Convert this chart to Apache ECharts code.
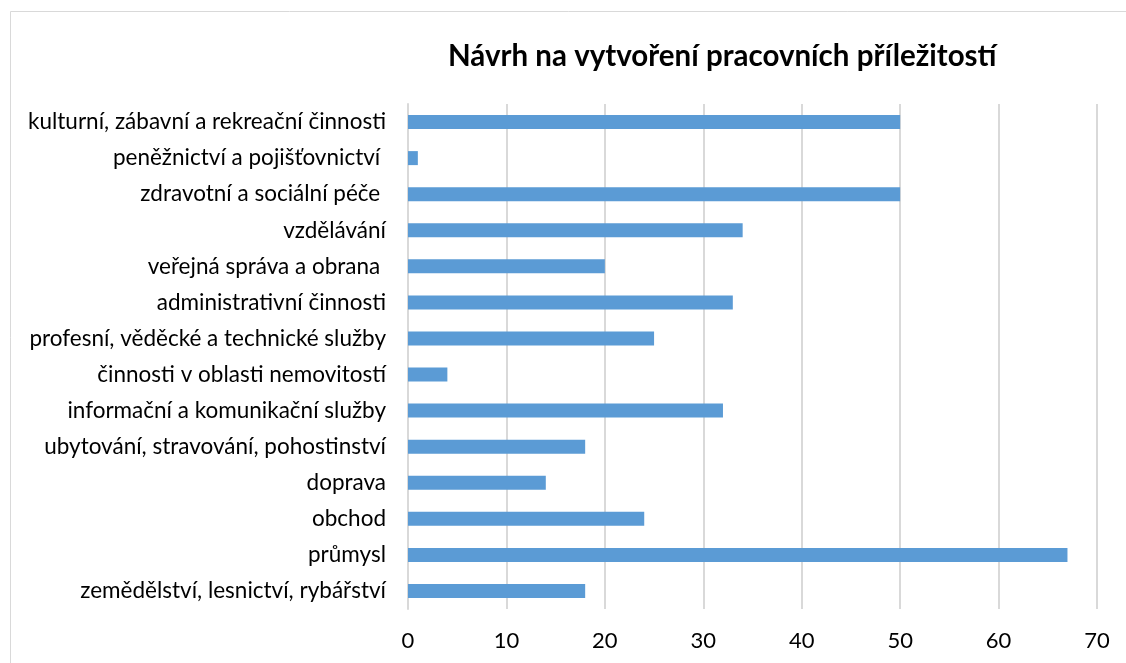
<!DOCTYPE html>
<html style="height: 100%">
<head>
    <meta charset="utf-8">
    <title>Návrh na vytvoření pracovních příležitostí</title>
    <script src="https://cdn.jsdelivr.net/npm/echarts@6/dist/echarts.min.js"></script>
</head>
<body style="height: 100%; margin: 0; background: #fff">
    <div id="chart" style="width: 1126px; height: 663px"></div>
    <script>
        // kategorie odspodu nahoru (jak je kreslí osa y)
        const categories = [
            'zemědělství, lesnictví, rybářství',
            'průmysl',
            'obchod',
            'doprava',
            'ubytování, stravování, pohostinství',
            'informační a komunikační služby',
            'činnosti v oblasti nemovitostí',
            'profesní, věděcké a technické služby',
            'administrativní činnosti',
            'veřejná správa a obrana ',
            'vzdělávání',
            'zdravotní a sociální péče ',
            'peněžnictví a pojišťovnictví ',
            'kulturní, zábavní a rekreační činnosti'
        ];
        const values = [18, 67, 24, 14, 18, 32, 4, 25, 33, 20, 34, 50, 1, 50];
        const xTicks = { min: 0, max: 70, interval: 10 };

        const font = 'Lato, "Open Sans", sans-serif';

        const chart = echarts.init(document.getElementById('chart'), null, { renderer: 'canvas' });
        chart.setOption({
            animation: false,
            backgroundColor: '#fff',
            // rámeček grafu jako v Excelu
            graphic: [{
                type: 'rect',
                shape: { x: 10.5, y: 11.5, width: 1140, height: 680 },
                style: { fill: null, stroke: '#d9d9d9', lineWidth: 1 },
                silent: true
            }],
            title: {
                text: 'Návrh na vytvoření pracovních příležitostí',
                left: 443,
                top: 36,
                textStyle: {
                    fontFamily: font,
                    fontSize: 29.5,
                    fontWeight: 'bold',
                    color: '#000'
                }
            },
            grid: { left: 408, right: 29, top: 104, bottom: 54, containLabel: false },
            xAxis: {
                type: 'value',
                min: xTicks.min,
                max: xTicks.max,
                interval: xTicks.interval,
                axisLine: { show: false },
                axisTick: { show: false },
                splitLine: { lineStyle: { color: '#d9d9d9', width: 2 } },
                axisLabel: {
                    margin: 21,
                    fontFamily: font,
                    fontSize: 22,
                    color: '#000'
                }
            },
            yAxis: {
                type: 'category',
                data: categories,
                axisLine: { show: true, lineStyle: { color: '#d9d9d9', width: 2 } },
                axisTick: { show: false },
                axisLabel: {
                    margin: 22,
                    fontFamily: font,
                    fontSize: 22.5,
                    color: '#000'
                }
            },
            series: [{
                type: 'bar',
                data: values,
                barWidth: 14,
                itemStyle: { color: '#5b9bd5' }
            }]
        });
    </script>
</body>
</html>
